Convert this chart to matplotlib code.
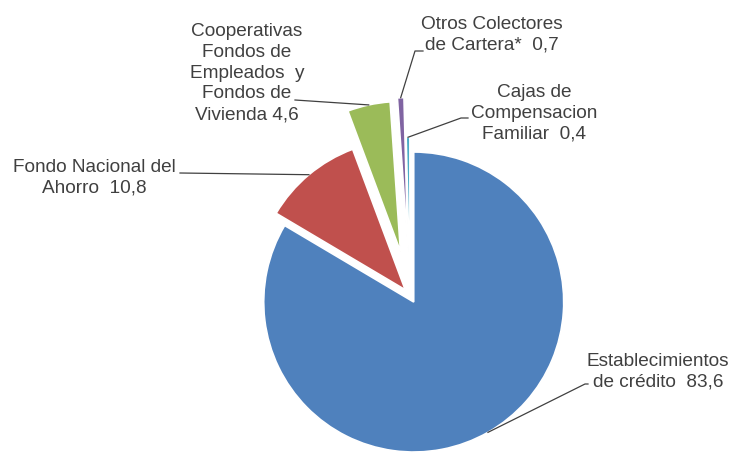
import numpy as np
import matplotlib
matplotlib.use("Agg")
from matplotlib import pyplot as plt

labels = ["Establecimientos\nde crédito  83,6",
          "Fondo Nacional del\nAhorro  10,8",
          "Cooperativas\nFondos de\nEmpleados  y\nFondos de\nVivienda 4,6",
          "Otros Colectores\nde Cartera*  0,7",
          "Cajas de\nCompensacion\nFamiliar  0,4"]
values = [83.6, 10.8, 4.6, 0.7, 0.4]
colors = ["#4F81BD", "#C0504D", "#9BBB59", "#8064A2", "#4BACC6"]
explode = [0.05, 0.05, 0.30, 0.32, 0.055]

plt.rcParams['font.family'] = ['Liberation Sans', 'DejaVu Sans']

W, H = 733, 454
R = 150.0           # pie radius in pixels
CX, CY = 410.0, 295.5  # pie centre in pixels (from top)


def px(x, y):
    # pixel position (from top-left) -> data coords
    return (x - CX) / R, (CY - y) / R


fig = plt.figure(figsize=(W / 100, H / 100), dpi=100)
ax = fig.add_axes([0, 0, 1, 1])
wedges, _ = ax.pie(values, colors=colors, explode=explode, startangle=90,
                   counterclock=False, radius=1,
                   wedgeprops=dict(edgecolor='white', linewidth=1.2))
ax.set_xlim(-CX / R, (W - CX) / R)
ax.set_ylim(-(H - CY) / R, CY / R)
ax.set_aspect('auto')
ax.axis('off')

# text centres (pixels) and leader line elbows (pixels)
text_pos = [(658, 372), (94, 178), (247, 73), (492, 35), (534, 113)]
elbows = [[(588, 384), (585, 384)],
          [(180, 173)],
          [(295, 100)],
          [(423, 51), (415, 51)],
          [(468, 118), (461, 118)]]

txt_color = "#404040"
for w, lab, tp, el in zip(wedges, labels, text_pos, elbows):
    ax.text(*px(*tp), lab, ha='center', va='center', fontsize=13.7,
            color=txt_color, linespacing=1.3, multialignment='center')
    mid = np.deg2rad((w.theta1 + w.theta2) / 2)
    cx, cy = w.center
    ax_pt = (cx + w.r * np.cos(mid), cy + w.r * np.sin(mid))
    pts = [px(*p) for p in el] + [ax_pt]
    xs, ys = zip(*pts)
    ax.plot(xs, ys, color="#404040", lw=0.9)

fig.savefig("out.png", dpi=100)
